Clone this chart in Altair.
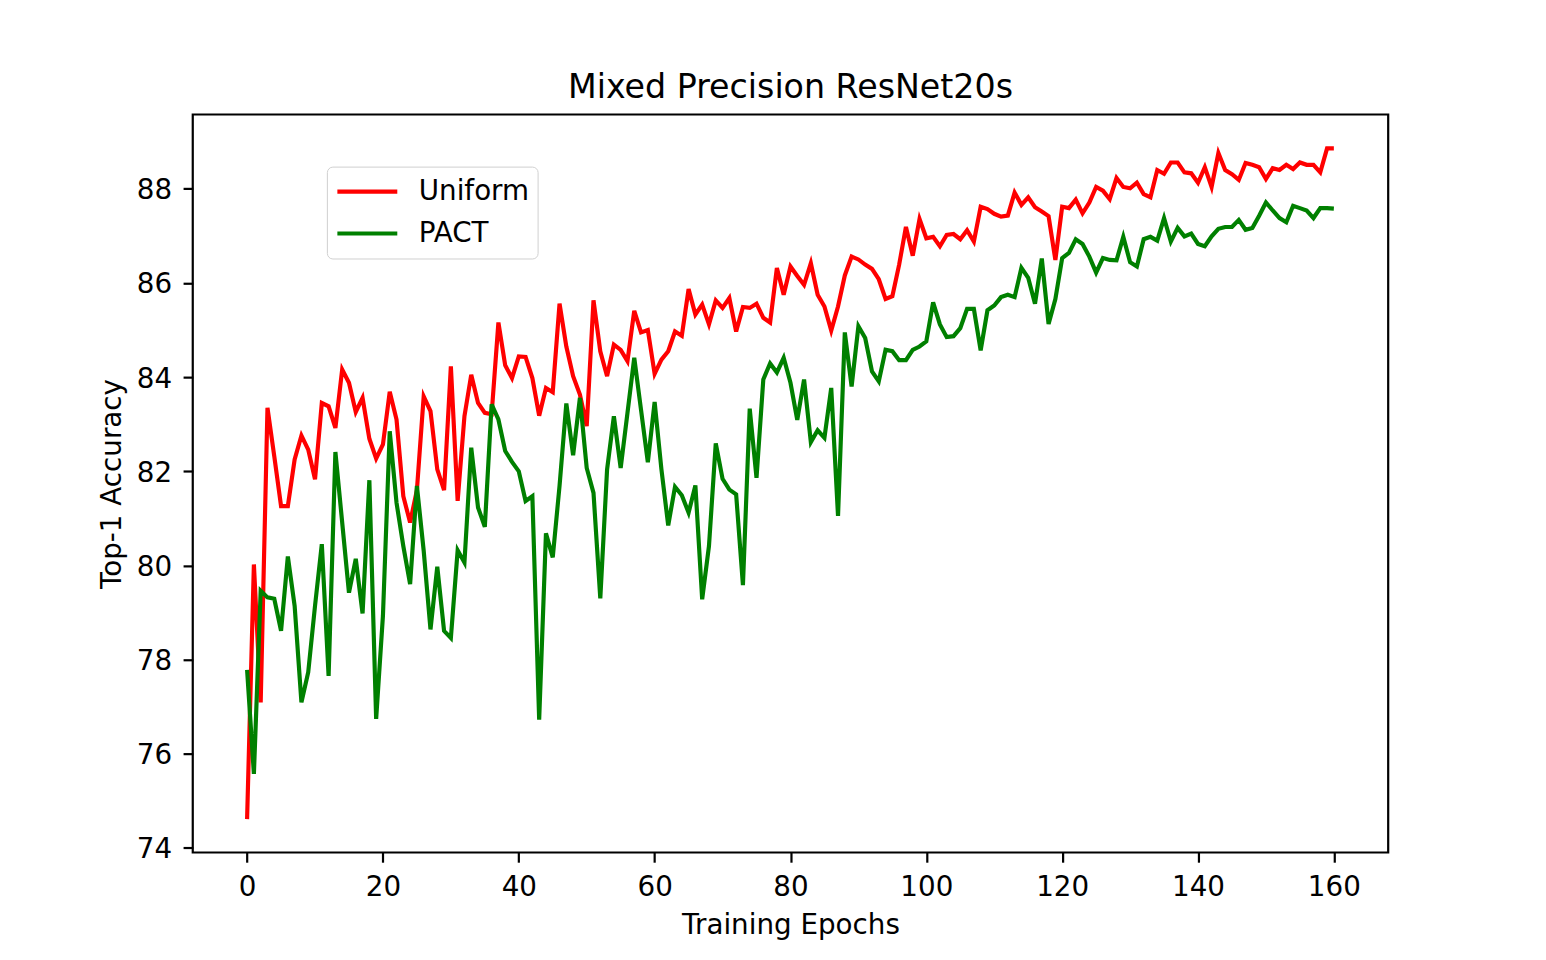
import altair as alt
import pandas as pd

epochs = list(range(161))

uniform = [
    74.61, 80.02, 77.09, 83.35, 82.32, 81.26, 81.26, 82.25, 82.76, 82.46,
    81.83, 83.45, 83.38, 82.92, 84.16, 83.88, 83.26, 83.56, 82.69, 82.27,
    82.57, 83.69, 83.10, 81.47, 80.91, 81.60, 83.59, 83.28, 82.04, 81.60,
    84.23, 81.37, 83.17, 84.05, 83.45, 83.24, 83.21, 85.16, 84.25, 83.98,
    84.44, 84.43, 83.98, 83.18, 83.77, 83.68, 85.56, 84.65, 84.02, 83.63,
    82.96, 85.63, 84.55, 84.02, 84.69, 84.58, 84.34, 85.41, 84.95, 85.00,
    84.07, 84.37, 84.55, 84.97, 84.88, 85.87, 85.33, 85.54, 85.12, 85.63,
    85.47, 85.68, 84.97, 85.49, 85.47, 85.56, 85.26, 85.16, 86.32, 85.75,
    86.35, 86.15, 85.96, 86.42, 85.75, 85.50, 84.99, 85.50, 86.16, 86.56,
    86.50, 86.39, 86.30, 86.08, 85.66, 85.72, 86.39, 87.19, 86.58, 87.36,
    86.95, 86.98, 86.78, 87.02, 87.04, 86.93, 87.12, 86.88, 87.62, 87.57,
    87.47, 87.41, 87.43, 87.92, 87.66, 87.82, 87.61, 87.52, 87.42, 86.49,
    87.62, 87.59, 87.77, 87.48, 87.71, 88.04, 87.96, 87.78, 88.23, 88.04,
    88.01, 88.13, 87.89, 87.82, 88.40, 88.32, 88.56, 88.56, 88.35, 88.33,
    88.13, 88.46, 88.04, 88.76, 88.40, 88.31, 88.19, 88.55, 88.51, 88.46,
    88.21, 88.44, 88.40, 88.51, 88.42, 88.56, 88.51, 88.51, 88.35, 88.86,
    88.86,
]

pact = [
    77.78, 75.57, 79.46, 79.32, 79.29, 78.61, 80.19, 79.14, 77.09, 77.73,
    79.14, 80.45, 77.65, 82.41, 80.91, 79.42, 80.14, 78.98, 81.81, 76.74,
    78.93, 82.85, 81.33, 80.41, 79.60, 81.69, 80.31, 78.64, 79.97, 78.61,
    78.46, 80.32, 80.06, 82.50, 81.23, 80.82, 83.42, 83.10, 82.43, 82.20,
    82.00, 81.37, 81.47, 76.72, 80.68, 80.17, 81.69, 83.44, 82.34, 83.56,
    82.07, 81.54, 79.30, 82.04, 83.17, 82.07, 83.24, 84.41, 83.30, 82.19,
    83.47, 82.04, 80.85, 81.67, 81.49, 81.12, 81.70, 79.28, 80.41, 82.59,
    81.84, 81.61, 81.51, 79.58, 83.33, 81.86, 83.95, 84.29, 84.10, 84.41,
    83.88, 83.09, 83.95, 82.62, 82.87, 82.71, 83.77, 81.05, 84.95, 83.80,
    85.08, 84.83, 84.12, 83.91, 84.58, 84.55, 84.36, 84.36, 84.58, 84.65,
    84.76, 85.59, 85.12, 84.85, 84.87, 85.04, 85.45, 85.45, 84.57, 85.42,
    85.52, 85.70, 85.75, 85.70, 86.32, 86.11, 85.56, 86.52, 85.13, 85.66,
    86.53, 86.64, 86.93, 86.83, 86.56, 86.22, 86.53, 86.49, 86.48, 86.98,
    86.44, 86.35, 86.93, 86.98, 86.90, 87.38, 86.88, 87.17, 86.99, 87.05,
    86.83, 86.78, 86.99, 87.15, 87.19, 87.19, 87.34, 87.13, 87.17, 87.43,
    87.71, 87.54, 87.38, 87.29, 87.64, 87.59, 87.54, 87.38, 87.59, 87.59,
    87.58,
]

series_names = ["Uniform", "PACT"]
series_colors = ["red", "green"]
x_ticks = [0, 20, 40, 60, 80, 100, 120, 140, 160]
y_ticks = [74, 76, 78, 80, 82, 84, 86, 88]

df = pd.concat([
    pd.DataFrame({"epoch": epochs, "acc": uniform, "series": "Uniform"}),
    pd.DataFrame({"epoch": epochs, "acc": pact, "series": "PACT"}),
])

FONT = "DejaVu Sans"
W, H = 1197, 739

chart = alt.Chart(df).mark_line(strokeWidth=4.17).encode(
    x=alt.X("epoch:Q",
            scale=alt.Scale(domain=[-8, 168], nice=False, zero=False),
            axis=alt.Axis(values=x_ticks, title="Training Epochs",
                          labelBaseline="alphabetic", labelPadding=33,
                          titleBaseline="alphabetic", titleX=W / 2, titleY=81.5,
                          titleAlign="center", labelFlush=False)),
    y=alt.Y("acc:Q",
            scale=alt.Scale(domain=[73.90, 89.58], nice=False, zero=False),
            axis=alt.Axis(values=y_ticks, title="Top-1 Accuracy",
                          labelAlign="right", labelBaseline="alphabetic",
                          labelOffset=10, labelPadding=11.5,
                          titleAngle=270, titleBaseline="alphabetic",
                          titleX=-72, titleY=H / 2, titleAlign="center")),
    color=alt.Color("series:N",
                    scale=alt.Scale(domain=series_names, range=series_colors),
                    sort=series_names,
                    legend=alt.Legend(title=None, orient="none",
                                      legendX=134.3, legendY=52.2,
                                      symbolType="stroke", symbolSize=3600,
                                      symbolStrokeWidth=4.17,
                                      clipHeight=34, rowPadding=8, padding=8,
                                      labelOffset=19,
                                      strokeColor="#d0d0d0", fillColor="white",
                                      cornerRadius=5.5)),
).properties(
    width=W, height=H,
    title=alt.TitleParams("Mixed Precision ResNet20s", fontSize=33.3, font=FONT,
                          fontWeight="normal", color="black", offset=17, dy=34,
                          baseline="alphabetic", anchor="middle", frame="group"),
    padding={"left": 185, "top": 106, "right": 150, "bottom": 100},
    autosize=alt.AutoSizeParams(type="none"),
    background="white",
).configure_view(
    stroke="black", strokeWidth=2.2, fill="white"
).configure_axis(
    labelFont=FONT, labelFontSize=27.8, labelColor="black",
    titleFont=FONT, titleFontSize=27.8, titleColor="black", titleFontWeight="normal",
    tickSize=9.7, tickWidth=2.2, tickColor="black",
    domain=False, grid=False, labelOverlap=False,
).configure_legend(
    labelFont=FONT, labelFontSize=27.8, labelColor="black",
)

chart.save("out.html", embed_options={"renderer": "svg", "actions": False})
